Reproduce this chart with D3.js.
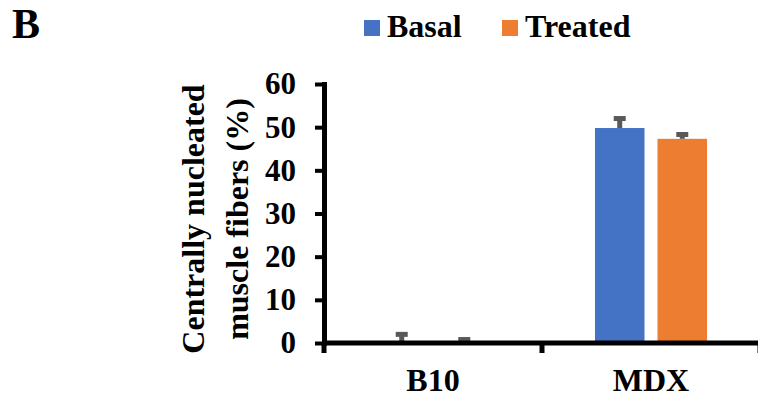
<!DOCTYPE html>
<html>
<head>
<meta charset="utf-8">
<script src="https://cdn.jsdelivr.net/npm/d3@7"></script>
<style>
  body { margin: 0; background: #fff; }
  svg text { font-family: "Liberation Serif", "Times New Roman", serif; font-weight: bold; fill: #000; }
</style>
</head>
<body>
<div id="chart"></div>
<script>
// data
const categories = ["B10", "MDX"];
const seriesNames = ["Basal", "Treated"];
const basalValues = [0.4, 49.8];
const basalErrors = [1.6, 2.2];
const treatedValues = [0.2, 47.3];
const treatedErrors = [0.6, 1.0];
const yTicks = [0, 10, 20, 30, 40, 50, 60];
const colors = ["#4472C4", "#ED7D31"];

const width = 758;
const height = 398;

const svg = d3.select("#chart")
    .append("svg")
    .attr("width", width)
    .attr("height", height);

// plot area
const plotLeft = 324, plotRight = 760, plotTop = 84, plotBottom = 343;

const y = d3.scaleLinear()
    .domain([0, 60])
    .range([plotBottom, plotTop]);

const x0 = d3.scaleBand()
    .domain(categories)
    .range([plotLeft, plotRight])
    .paddingInner(0.486)
    .paddingOuter(0.243);

const x1 = d3.scaleBand()
    .domain(seriesNames)
    .range([0, x0.bandwidth()])
    .paddingInner(0.208);

const rows = categories.map((c, i) => ({
    cat: c,
    vals: [
        {s: "Basal", v: basalValues[i], e: basalErrors[i]},
        {s: "Treated", v: treatedValues[i], e: treatedErrors[i]}
    ]
}));

// bars
const groups = svg.selectAll("g.grp")
    .data(rows)
    .enter().append("g")
    .attr("class", "grp")
    .attr("transform", d => `translate(${x0(d.cat)},0)`);

groups.selectAll("rect")
    .data(d => d.vals)
    .enter().append("rect")
    .attr("x", d => x1(d.s))
    .attr("y", d => y(d.v))
    .attr("width", x1.bandwidth())
    .attr("height", d => y(0) - y(d.v))
    .attr("fill", d => colors[seriesNames.indexOf(d.s)]);

// error bars (plus only)
groups.selectAll("line.stem")
    .data(d => d.vals)
    .enter().append("line")
    .attr("class", "stem")
    .attr("x1", d => x1(d.s) + x1.bandwidth()/2)
    .attr("x2", d => x1(d.s) + x1.bandwidth()/2)
    .attr("y1", d => y(d.v))
    .attr("y2", d => y(d.v + d.e))
    .attr("stroke", "#595959")
    .attr("stroke-width", 5);

groups.selectAll("line.cap")
    .data(d => d.vals)
    .enter().append("line")
    .attr("class", "cap")
    .attr("x1", d => x1(d.s) + x1.bandwidth()/2 - 6)
    .attr("x2", d => x1(d.s) + x1.bandwidth()/2 + 6)
    .attr("y1", d => y(d.v + d.e))
    .attr("y2", d => y(d.v + d.e))
    .attr("stroke", "#595959")
    .attr("stroke-width", 5);

// Y axis
const yAxis = svg.append("g")
    .attr("transform", `translate(${plotLeft},0)`)
    .call(d3.axisLeft(y).tickValues(yTicks).tickSize(9).tickSizeOuter(0).tickPadding(19));
yAxis.select(".domain").attr("stroke", "#000").attr("stroke-width", 5)
    .attr("stroke-linecap", "square");
yAxis.selectAll(".tick line").attr("stroke", "#000").attr("stroke-width", 4);
yAxis.selectAll(".tick text")
    .style("font-family", '"Liberation Serif", "Times New Roman", serif')
    .style("font-weight", "bold")
    .style("font-size", "31px")
    .attr("fill", "#000");

// X axis line
svg.append("line")
    .attr("x1", plotLeft)
    .attr("x2", plotRight)
    .attr("y1", y(0))
    .attr("y2", y(0))
    .attr("stroke", "#000")
    .attr("stroke-width", 5);

// boundary ticks between categories
const bounds = d3.range(categories.length + 1).map(i => plotLeft + i * x0.step());
svg.selectAll("line.btick")
    .data(bounds)
    .enter().append("line")
    .attr("class", "btick")
    .attr("x1", d => d)
    .attr("x2", d => d)
    .attr("y1", y(0))
    .attr("y2", y(0) + 10)
    .attr("stroke", "#000")
    .attr("stroke-width", 5);

// category labels
svg.selectAll("text.cat")
    .data(categories)
    .enter().append("text")
    .attr("class", "cat")
    .attr("x", d => x0(d) + x0.bandwidth()/2)
    .attr("y", 391)
    .attr("text-anchor", "middle")
    .style("font-size", "32px")
    .text(d => d);

// y axis title
const titleLines = ["Centrally nucleated", "muscle fibers (%)"];
svg.selectAll("text.ytitle")
    .data(titleLines)
    .enter().append("text")
    .attr("class", "ytitle")
    .attr("transform", (d, i) => `translate(${204 + i * 44},219) rotate(-90)`)
    .attr("text-anchor", "middle")
    .style("font-size", "32px")
    .text(d => d);

// panel label
svg.append("text")
    .attr("x", 12)
    .attr("y", 38)
    .style("font-size", "42px")
    .text("B");

// legend
const legendX = [364, 502];
const legend = svg.selectAll("g.leg")
    .data(seriesNames)
    .enter().append("g")
    .attr("class", "leg")
    .attr("transform", (d, i) => `translate(${legendX[i]},20)`);

legend.append("rect")
    .attr("width", 16)
    .attr("height", 16)
    .attr("fill", (d, i) => colors[i]);

legend.append("text")
    .attr("x", 23)
    .attr("y", 17)
    .style("font-size", "32px")
    .text(d => d);
</script>
</body>
</html>
